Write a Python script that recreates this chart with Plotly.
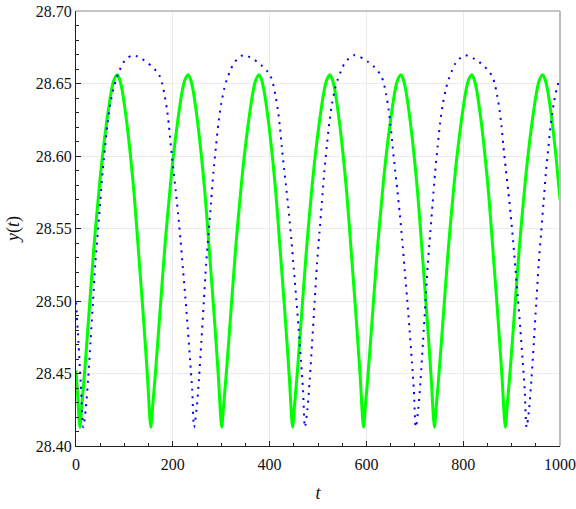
import plotly.graph_objects as go

# ---- data ----
green_t = [0, 4,
           8, 12, 18, 28, 37, 46, 54, 64, 72, 78, 85, 90, 95, 103, 112, 120, 128, 137, 143, 148,
           154.5, 158.5, 164.5, 174.5, 183.5, 192.5, 200.5, 210.5, 218.5, 224.5, 231.5, 236.5, 241.5, 249.5, 258.5, 266.5, 274.5, 283.5, 289.5, 294.5,
           301, 305, 311, 321, 330, 339, 347, 357, 365, 371, 378, 383, 388, 396, 405, 413, 421, 430, 436, 441,
           447.5, 451.5, 457.5, 467.5, 476.5, 485.5, 493.5, 503.5, 511.5, 517.5, 524.5, 529.5, 534.5, 542.5, 551.5, 559.5, 567.5, 576.5, 582.5, 587.5,
           594, 598, 604, 614, 623, 632, 640, 650, 658, 664, 671, 676, 681, 689, 698, 706, 714, 723, 729, 734,
           740.5, 744.5, 750.5, 760.5, 769.5, 778.5, 786.5, 796.5, 804.5, 810.5, 817.5, 822.5, 827.5, 835.5, 844.5, 852.5, 860.5, 869.5, 875.5, 880.5,
           887, 891, 897, 907, 916, 925, 933, 943, 951, 957, 964, 969, 974, 982, 991, 1000]
green_y = [28.452, 28.432,
           28.413, 28.428, 28.452, 28.497, 28.537, 28.571, 28.598, 28.625, 28.643, 28.652, 28.656, 28.653, 28.646, 28.628, 28.602, 28.574, 28.539, 28.499, 28.471, 28.446,
           28.413, 28.428, 28.452, 28.497, 28.537, 28.571, 28.598, 28.625, 28.643, 28.652, 28.656, 28.653, 28.646, 28.628, 28.602, 28.574, 28.539, 28.499, 28.471, 28.446,
           28.413, 28.428, 28.452, 28.497, 28.537, 28.571, 28.598, 28.625, 28.643, 28.652, 28.656, 28.653, 28.646, 28.628, 28.602, 28.574, 28.539, 28.499, 28.471, 28.446,
           28.413, 28.428, 28.452, 28.497, 28.537, 28.571, 28.598, 28.625, 28.643, 28.652, 28.656, 28.653, 28.646, 28.628, 28.602, 28.574, 28.539, 28.499, 28.471, 28.446,
           28.413, 28.428, 28.452, 28.497, 28.537, 28.571, 28.598, 28.625, 28.643, 28.652, 28.656, 28.653, 28.646, 28.628, 28.602, 28.574, 28.539, 28.499, 28.471, 28.446,
           28.413, 28.428, 28.452, 28.497, 28.537, 28.571, 28.598, 28.625, 28.643, 28.652, 28.656, 28.653, 28.646, 28.628, 28.602, 28.574, 28.539, 28.499, 28.471, 28.446,
           28.413, 28.428, 28.452, 28.497, 28.537, 28.571, 28.598, 28.625, 28.643, 28.652, 28.656, 28.653, 28.646, 28.628, 28.602, 28.570]

blue_t = [0, 5, 10,
          15, 20, 25, 30, 35, 40, 45, 50, 55, 60, 65, 71, 77, 83, 90, 97, 105, 116,
          126, 136, 146, 156, 166, 173, 178, 183, 188, 192, 196, 201, 206, 211, 216, 221, 226, 231, 236, 240,
          244, 249, 254, 259, 264, 269, 274, 279, 284, 289, 294, 300, 306, 312, 319, 326, 334, 345,
          355, 365, 375, 385, 395, 402, 407, 412, 417, 421, 425, 430, 435, 440, 445, 450, 455, 460, 465, 469,
          473, 478, 483, 488, 493, 498, 503, 508, 513, 518, 523, 529, 535, 541, 548, 555, 563, 574,
          584, 594, 604, 614, 624, 631, 636, 641, 646, 650, 654, 659, 664, 669, 674, 679, 684, 689, 694, 698,
          702, 707, 712, 717, 722, 727, 732, 737, 742, 747, 752, 758, 764, 770, 777, 784, 792, 803,
          813, 823, 833, 843, 853, 860, 865, 870, 875, 879, 883, 888, 893, 898, 903, 908, 913, 918, 923, 927,
          931, 936, 941, 946, 951, 956, 961, 966, 971, 976, 981, 987, 993, 999, 1000]
blue_y = [28.499, 28.472, 28.442,
          28.413, 28.425, 28.446, 28.472, 28.499, 28.526, 28.547, 28.568, 28.589, 28.606, 28.622, 28.636, 28.646, 28.653, 28.659, 28.664, 28.667, 28.6695,
          28.6688, 28.667, 28.6648, 28.662, 28.6585, 28.655, 28.650, 28.642, 28.632, 28.621, 28.607, 28.591, 28.576, 28.560, 28.542, 28.522, 28.502, 28.481, 28.458, 28.439,
          28.413, 28.425, 28.446, 28.472, 28.499, 28.526, 28.547, 28.568, 28.589, 28.606, 28.622, 28.636, 28.646, 28.653, 28.659, 28.664, 28.667, 28.6695,
          28.6688, 28.667, 28.6648, 28.662, 28.6585, 28.655, 28.650, 28.642, 28.632, 28.621, 28.607, 28.591, 28.576, 28.560, 28.542, 28.522, 28.502, 28.481, 28.458, 28.439,
          28.413, 28.425, 28.446, 28.472, 28.499, 28.526, 28.547, 28.568, 28.589, 28.606, 28.622, 28.636, 28.646, 28.653, 28.659, 28.664, 28.667, 28.6695,
          28.6688, 28.667, 28.6648, 28.662, 28.6585, 28.655, 28.650, 28.642, 28.632, 28.621, 28.607, 28.591, 28.576, 28.560, 28.542, 28.522, 28.502, 28.481, 28.458, 28.439,
          28.413, 28.425, 28.446, 28.472, 28.499, 28.526, 28.547, 28.568, 28.589, 28.606, 28.622, 28.636, 28.646, 28.653, 28.659, 28.664, 28.667, 28.6695,
          28.6688, 28.667, 28.6648, 28.662, 28.6585, 28.655, 28.650, 28.642, 28.632, 28.621, 28.607, 28.591, 28.576, 28.560, 28.542, 28.522, 28.502, 28.481, 28.458, 28.439,
          28.413, 28.425, 28.446, 28.472, 28.499, 28.526, 28.547, 28.568, 28.589, 28.606, 28.622, 28.636, 28.646, 28.653, 28.6535]

x_ticks = [0, 200, 400, 600, 800, 1000]
y_ticks = [28.40, 28.45, 28.50, 28.55, 28.60, 28.65, 28.70]
y_tick_labels = ["28.40", "28.45", "28.50", "28.55", "28.60", "28.65", "28.70"]

FONT = "Liberation Serif"

fig = go.Figure()
fig.add_trace(go.Scatter(x=green_t, y=green_y, mode="lines",
                         line=dict(color="#00ff00", width=3, shape="spline", smoothing=0.8),
                         showlegend=False, hoverinfo="skip"))
fig.add_trace(go.Scatter(x=blue_t, y=blue_y, mode="lines",
                         line=dict(color="#0000ff", width=2, dash="2px,5.7px", shape="spline", smoothing=0.8),
                         showlegend=False, hoverinfo="skip"))

axis_common = dict(showline=True, linecolor="#222", linewidth=1.2, mirror=False,
                   ticks="inside", ticklen=5, tickwidth=1, tickcolor="#222",
                   showgrid=True, gridcolor="#ebebeb", gridwidth=1, zeroline=False,
                   tickfont=dict(family=FONT, size=16, color="#111"))

fig.update_xaxes(range=[0, 1000], tickvals=x_ticks, ticktext=[str(v) for v in x_ticks],
                 ticklabelstandoff=4,
                 minor=dict(dtick=50, ticks="inside", ticklen=3, tickcolor="#222", showgrid=False),
                 title=dict(text="<i>t</i>", font=dict(family=FONT, size=18, color="#111"), standoff=14),
                 **axis_common)
fig.update_yaxes(range=[28.40, 28.70], tickvals=y_ticks, ticktext=y_tick_labels,
                 minor=dict(dtick=0.01, ticks="inside", ticklen=3, tickcolor="#222", showgrid=False),
                 title=dict(text="<i>y</i>(<i>t</i>)", font=dict(family=FONT, size=18, color="#111"), standoff=11),
                 **axis_common)

fig.update_layout(
    width=576, height=509,
    margin=dict(l=76, r=16, t=11, b=63, autoexpand=False),
    paper_bgcolor="white", plot_bgcolor="white",
    shapes=[
        dict(type="line", xref="paper", yref="paper", x0=0, x1=1, y0=1, y1=1,
             line=dict(color="#8a8a8a", width=1)),
        dict(type="line", xref="paper", yref="paper", x0=1, x1=1, y0=0, y1=1,
             line=dict(color="#bdbdbd", width=2)),
    ],
)

fig.write_html("out.html")
